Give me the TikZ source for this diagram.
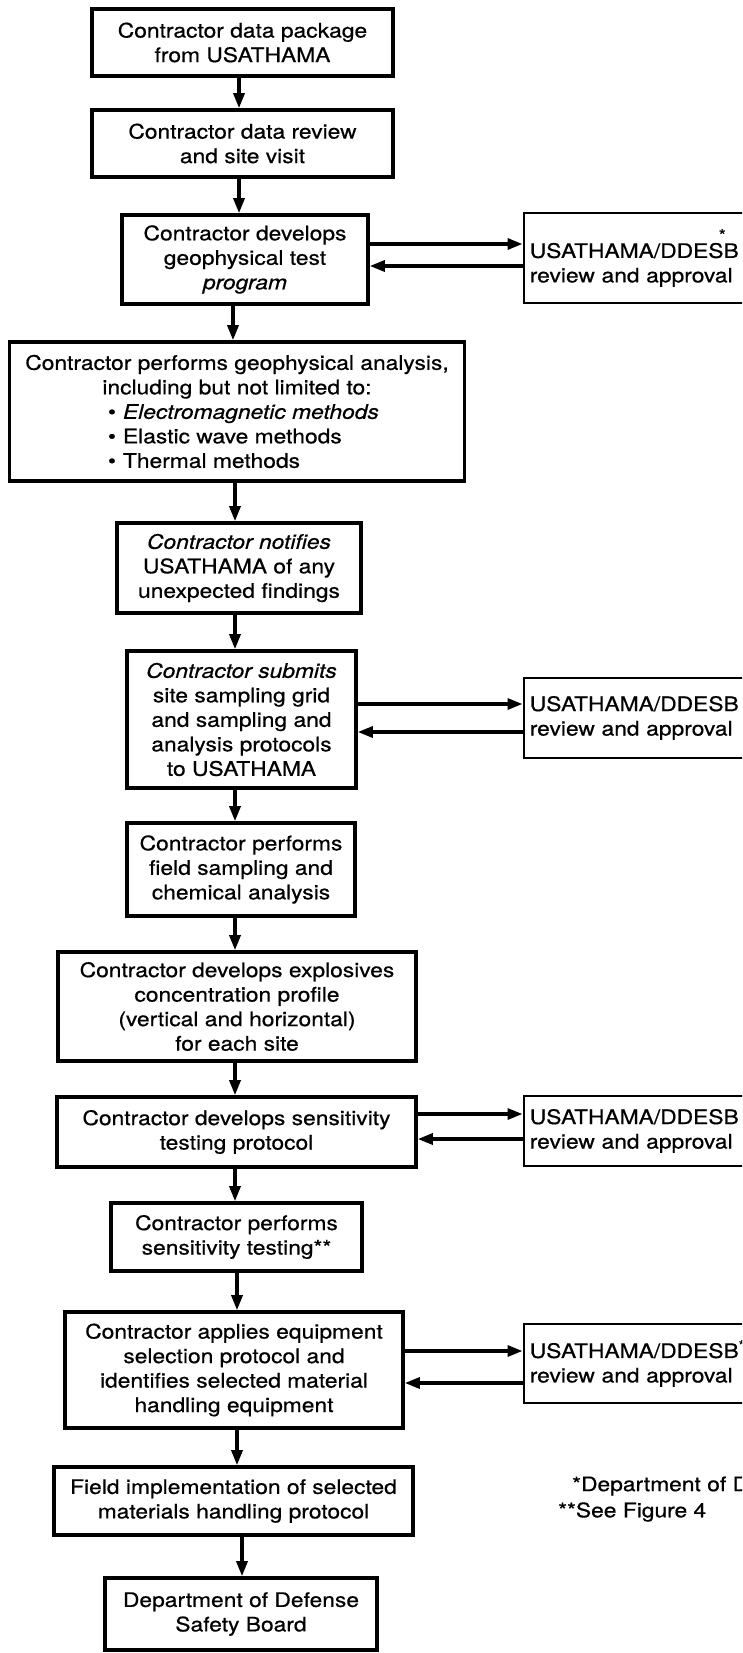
\documentclass[tikz,border=0pt]{standalone}
\usepackage{fontspec}
\setmainfont{TeX Gyre Heros}[FakeStretch=1.14,FakeBold=0.6]
\usetikzlibrary{arrows.meta}
\tikzset{
  txt/.style={font=\fontsize{20}{24.5}\selectfont},
  stepbox/.style={txt, draw, line width=3.6pt, align=center, inner sep=0pt},
  revbox/.style={txt, draw, line width=2.6pt, anchor=west, align=left, text width=236pt, inner xsep=6pt, inner ysep=0pt},
  flow/.style={line width=3.2pt, -{Triangle[length=15pt,width=11pt]}},
  note/.style={txt, anchor=west, inner sep=0pt}
}

\begin{document}
\begin{tikzpicture}[x=1pt,y=-1pt]
\useasboundingbox (0,0) rectangle (742,1653);
\clip (0,0) rectangle (742,1653);
\node [stepbox, minimum width=301pt, minimum height=67pt] (pkg) at (242.5,42.5) {Contractor data package\\ from USATHAMA};
\node [stepbox, minimum width=301pt, minimum height=67pt] (visit) at (242.5,143.5) {Contractor data review\\ and site visit};
\node [stepbox, minimum width=246pt, minimum height=89pt] (geotest) at (245,259.5) {Contractor develops\\ geophysical test\\ {\itshape program}};
\node [stepbox, minimum width=455pt, minimum height=139pt] (geoanal) at (237,411.5) {Contractor performs geophysical analysis,\\ including but not limited to:\\
  \makebox[258pt][l]{\textbullet\hspace{7pt}{\itshape Electromagnetic methods}}\\
  \makebox[258pt][l]{\textbullet\hspace{7pt}Elastic wave methods}\\
  \makebox[258pt][l]{\textbullet\hspace{7pt}Thermal methods}};
\node [stepbox, minimum width=244pt, minimum height=90pt] (notify) at (239,568) {{\itshape Contractor notifies}\\ USATHAMA of any\\ unexpected findings};
\node [stepbox, minimum width=229pt, minimum height=137pt] (grid) at (241.5,719.5) {{\itshape Contractor submits}\\ site sampling grid\\ and sampling and\\ analysis protocols\\ to USATHAMA};
\node [stepbox, minimum width=228pt, minimum height=93pt] (chem) at (241,869.5) {Contractor performs\\ field sampling and\\ chemical analysis};
\node [stepbox, minimum width=358pt, minimum height=109pt] (profile) at (237,1006.5) {Contractor develops explosives\\ concentration profile\\ (vertical and horizontal)\\ for each site};
\node [stepbox, minimum width=359pt, minimum height=70pt] (protocol) at (236.5,1132) {Contractor develops sensitivity\\ testing protocol};
\node [stepbox, minimum width=251pt, minimum height=68pt] (testing) at (236.5,1237) {Contractor performs\\ sensitivity testing**};
\node [stepbox, minimum width=338pt, minimum height=116pt] (equip) at (234,1370) {Contractor applies equipment\\ selection protocol and\\ identifies selected material\\ handling equipment};
\node [stepbox, minimum width=359pt, minimum height=68pt] (implement) at (233.5,1501) {Field implementation of selected\\ materials handling protocol};
\node [stepbox, minimum width=272pt, minimum height=72pt] (dodsb) at (241,1614) {Department of Defense\\ Safety Board};

\node [revbox, minimum height=90pt] (apprgeo) at (522.5,258) {USATHAMA/DDESB\rlap{\kern-20pt\raisebox{17pt}{\fontsize{16}{16}\selectfont *}}\\ review and approval};
\node [revbox, minimum height=80pt] (apprgrid) at (522.5,718) {USATHAMA/DDESB\\ review and approval};
\node [revbox, minimum height=70pt] (apprsens) at (522.5,1131) {USATHAMA/DDESB\\ review and approval};
\node [revbox, minimum height=79pt] (apprequip) at (522.5,1363.5) {USATHAMA/DDESB\textsuperscript{*}\\ review and approval};

\node [note] (noteone) at (572,1486) {*Department of D};
\node [note] (notetwo) at (558,1512) {**See Figure 4};

\draw [flow] (239,0 |- pkg.south) -- (239,0 |- visit.north);
\draw [flow] (239,0 |- visit.south) -- (239,0 |- geotest.north);
\draw [flow] (233,0 |- geotest.south) -- (233,0 |- geoanal.north);
\draw [flow] (235,0 |- geoanal.south) -- (235,0 |- notify.north);
\draw [flow] (235,0 |- notify.south) -- (235,0 |- grid.north);
\draw [flow] (235,0 |- grid.south) -- (235,0 |- chem.north);
\draw [flow] (235,0 |- chem.south) -- (235,0 |- profile.north);
\draw [flow] (235,0 |- profile.south) -- (235,0 |- protocol.north);
\draw [flow] (235,0 |- protocol.south) -- (235,0 |- testing.north);
\draw [flow] (237,0 |- testing.south) -- (237,0 |- equip.north);
\draw [flow] (237,0 |- equip.south) -- (237,0 |- implement.north);
\draw [flow] (242,0 |- implement.south) -- (242,0 |- dodsb.north);

\draw [flow] (geotest.east |- 0,244) -- (apprgeo.west |- 0,244);
\draw [flow] (apprgeo.west |- 0,266) -- (geotest.east |- 0,266);
\draw [flow] (grid.east |- 0,704) -- (apprgrid.west |- 0,704);
\draw [flow] (apprgrid.west |- 0,732) -- (grid.east |- 0,732);
\draw [flow] (protocol.east |- 0,1114) -- (apprsens.west |- 0,1114);
\draw [flow] (apprsens.west |- 0,1139) -- (protocol.east |- 0,1139);
\draw [flow] (equip.east |- 0,1351) -- (apprequip.west |- 0,1351);
\draw [flow] (apprequip.west |- 0,1383) -- (equip.east |- 0,1383);
\end{tikzpicture}
\end{document}
